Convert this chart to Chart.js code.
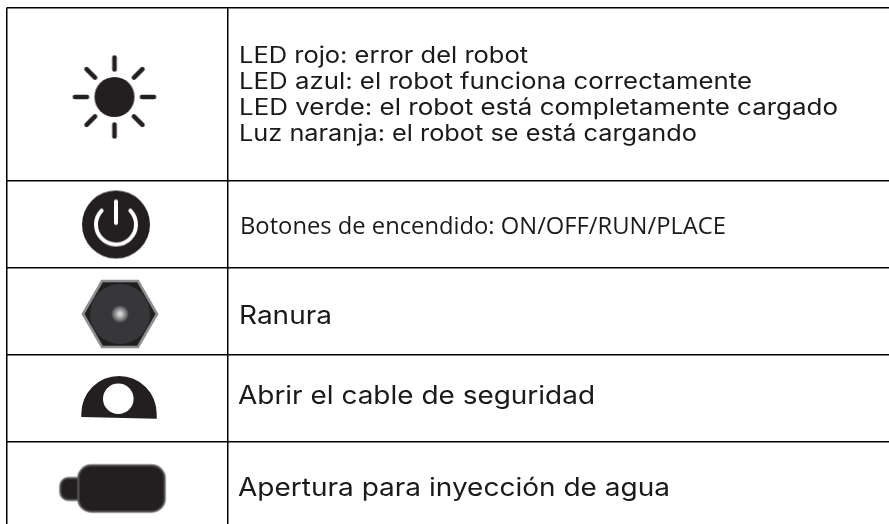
<!DOCTYPE html>
<html lang="es">
<head>
<meta charset="utf-8">
<title>Indicadores del robot</title>
<script src="https://cdn.jsdelivr.net/npm/chart.js@4"></script>
<style>
  html, body { margin: 0; padding: 0; background: #fff; }
  canvas { display: block; }
</style>
</head>
<body>
<canvas id="tabla" width="889" height="524"></canvas>
<script>
// rows of the table
const rowTexts = [
  "LED rojo: error del robot",
  "LED azul: el robot funciona correctamente",
  "LED verde: el robot está completamente cargado",
  "Luz naranja: el robot se está cargando",
  "Botones de encendido: ON/OFF/RUN/PLACE",
  "Ranura",
  "Abrir el cable de seguridad",
  "Apertura para inyección de agua",
];
const textBaselines = [63, 89, 115, 141, 234, 324, 404, 496];
const textStarts = [239, 239, 239, 239, 240, 239, 238, 238];
const textEnds = [528, 752, 838, 697, 726, 332, 595, 670];

// table lines, in axis units
const columnLines = [6.5, 227.5];
const rowLines = [7.5, 180.5, 267.5, 354.5, 441.5];

// icon centres
const iconX = [114.5, 116, 120, 119, 112.5];
const iconY = [97, 224.5, 314, 398, 488.5];

function iconCanvas(w, h, draw) {
  const c = document.createElement("canvas");
  c.width = w;
  c.height = h;
  const g = c.getContext("2d");
  draw(g, w / 2, h / 2);
  return c;
}

function roundBox(g, x, y, w, h, r) {
  g.beginPath();
  g.roundRect(x, y, w, h, r);
}

const sunIcon = iconCanvas(100, 100, (g, cx, cy) => {
  g.fillStyle = "#231f20";
  g.beginPath();
  g.arc(cx, cy, 20, 0, Math.PI * 2);
  g.fill();
  g.strokeStyle = "#231f20";
  g.lineWidth = 4.6;
  g.lineCap = "round";
  for (let i = 0; i < 8; i++) {
    const a = (i * Math.PI) / 4;
    g.beginPath();
    g.moveTo(cx + Math.cos(a) * 27.5, cy + Math.sin(a) * 27.5);
    g.lineTo(cx + Math.cos(a) * 39.5, cy + Math.sin(a) * 39.5);
    g.stroke();
  }
});

const powerIcon = iconCanvas(80, 80, (g, cx, cy) => {
  g.fillStyle = "#231f20";
  g.beginPath();
  g.arc(cx, cy, 34, 0, Math.PI * 2);
  g.fill();
  g.strokeStyle = "#fff";
  g.lineWidth = 4;
  g.lineCap = "round";
  g.beginPath();
  g.arc(cx, cy, 20, -Math.PI / 2 + 0.8, -Math.PI / 2 - 0.8);
  g.stroke();
  g.beginPath();
  g.moveTo(cx, cy - 23);
  g.lineTo(cx, cy - 1.5);
  g.stroke();
});

const slotIcon = iconCanvas(84, 76, (g, cx, cy) => {
  g.beginPath();
  g.moveTo(cx - 37, cy);
  g.lineTo(cx - 18, cy - 33);
  g.lineTo(cx + 18, cy - 33);
  g.lineTo(cx + 37, cy);
  g.lineTo(cx + 18, cy + 33);
  g.lineTo(cx - 18, cy + 33);
  g.closePath();
  g.fillStyle = "#231f20";
  g.fill();
  g.strokeStyle = "#8d8e91";
  g.lineWidth = 2.6;
  g.lineJoin = "miter";
  g.stroke();
  g.fillStyle = "#37373a";
  g.beginPath();
  g.arc(cx, cy, 30, 0, Math.PI * 2);
  g.fill();
  const glow = g.createRadialGradient(cx, cy, 1, cx, cy, 9);
  glow.addColorStop(0, "#d8d8d8");
  glow.addColorStop(0.6, "#808082");
  glow.addColorStop(1, "#37373a");
  g.fillStyle = glow;
  g.beginPath();
  g.arc(cx, cy, 9, 0, Math.PI * 2);
  g.fill();
});

const cableIcon = iconCanvas(90, 60, (g, cx, cy) => {
  const r = 37.7;
  g.fillStyle = "#231f20";
  g.beginPath();
  g.moveTo(cx - r, cy + 19);
  g.arc(cx, cy + 15.7, r, Math.PI, 0);
  g.lineTo(cx + r, cy + 20.7);
  g.closePath();
  g.fill();
  g.fillStyle = "#fff";
  g.beginPath();
  g.arc(cx - 0.7, cy + 0.7, 15.3, 0, Math.PI * 2);
  g.fill();
});

const bottleIcon = iconCanvas(112, 54, (g, cx, cy) => {
  g.fillStyle = "#231f20";
  g.strokeStyle = "#58585a";
  g.lineWidth = 2;
  roundBox(g, cx - 52.2, cy - 10.5, 24, 22, 8);
  g.fill();
  g.stroke();
  roundBox(g, cx - 34.2, cy - 23.2, 86.4, 46.4, 13);
  g.fill();
  g.stroke();
});

const rowIcons = [sunIcon, powerIcon, slotIcon, cableIcon, bottleIcon];

const rowTextPlugin = {
  id: "rowText",
  afterDatasetsDraw(chart) {
    const { ctx, scales } = chart;
    rowTexts.forEach((t, i) => {
      const size = i === 4 ? 23.5 : i > 4 ? 25 : 22.5;
      const x0 = scales.x.getPixelForValue(textStarts[i]);
      const x1 = scales.x.getPixelForValue(textEnds[i]);
      ctx.save();
      ctx.fillStyle = "#1a1a18";
      ctx.textBaseline = "alphabetic";
      ctx.font = i === 4 ? `${size}px "Open Sans"` : `${size}px Inter`;
      // stretch each line to its width in the reference
      const stretch = (x1 - x0) / ctx.measureText(t).width;
      ctx.translate(x0, scales.y.getPixelForValue(textBaselines[i]));
      ctx.scale(stretch, 1);
      ctx.fillText(t, 0, 0);
      ctx.restore();
    });
  },
};

new Chart(document.getElementById("tabla"), {
  type: "scatter",
  data: {
    datasets: [
      {
        data: iconX.map((x, i) => ({ x: x, y: iconY[i] })),
        pointStyle: rowIcons,
        pointRadius: 10,
        clip: false,
        showLine: false,
      },
    ],
  },
  options: {
    responsive: false,
    animation: false,
    // the plot area starts at the table's top left corner, so the lines stop there
    layout: { padding: { left: 6.5, top: 7.5 }, autoPadding: false },
    plugins: {
      legend: { display: false },
      tooltip: { enabled: false },
      title: { display: false },
    },
    scales: {
      x: {
        type: "linear",
        min: 6.5,
        max: 889,
        afterBuildTicks: (scale) => {
          scale.ticks = columnLines.map((v) => ({ value: v }));
        },
        ticks: { display: false },
        border: { display: false },
        grid: { color: "#000", lineWidth: 1.5, drawTicks: false },
      },
      y: {
        type: "linear",
        reverse: true,
        min: 7.5,
        max: 524,
        afterBuildTicks: (scale) => {
          scale.ticks = rowLines.map((v) => ({ value: v }));
        },
        ticks: { display: false },
        border: { display: false },
        grid: { color: "#000", lineWidth: 1.5, drawTicks: false },
      },
    },
  },
  plugins: [rowTextPlugin],
});
</script>
</body>
</html>
